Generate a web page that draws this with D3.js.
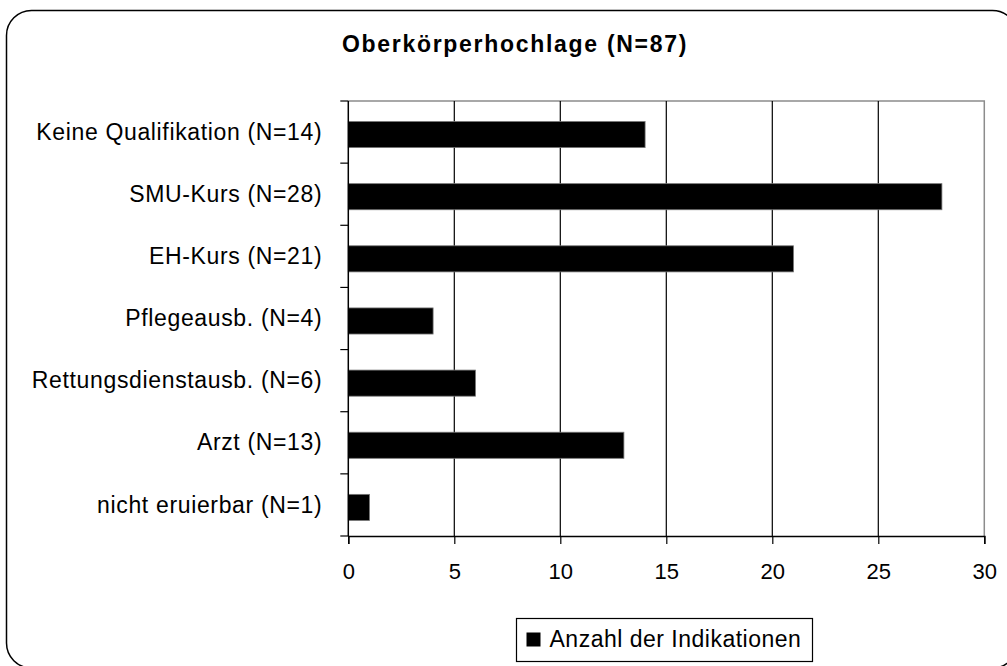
<!DOCTYPE html>
<html>
<head>
<meta charset="utf-8">
<script src="https://cdn.jsdelivr.net/npm/d3@7"></script>
<style>
  body { margin: 0; background: #fff; }
  svg { display: block; }
  text { font-family: "Liberation Sans", Arial, sans-serif; fill: #000; }
</style>
</head>
<body>
<div id="wrapper"></div>
<script>
const categories = [
  'Keine Qualifikation (N=14)',
  'SMU-Kurs (N=28)',
  'EH-Kurs (N=21)',
  'Pflegeausb. (N=4)',
  'Rettungsdienstausb. (N=6)',
  'Arzt (N=13)',
  'nicht eruierbar (N=1)'
];
const values = [14, 28, 21, 4, 6, 13, 1];
const xTicks = [0, 5, 10, 15, 20, 25, 30];
const title = 'Oberkörperhochlage (N=87)';
const seriesName = 'Anzahl der Indikationen';

const W = 1007, H = 666;
const plot = {left: 348.3, right: 984.3, top: 101, bottom: 536};

const svg = d3.select('#wrapper').append('svg')
  .attr('width', W)
  .attr('height', H);

// outer frame, runs off the right and bottom edge
svg.append('rect')
  .attr('x', 6.5).attr('y', 10.5)
  .attr('width', 1011).attr('height', 657.5)
  .attr('rx', 25).attr('ry', 25)
  .attr('fill', 'none')
  .attr('stroke', '#000')
  .attr('stroke-width', 1.5);

svg.append('text')
  .attr('x', 515).attr('y', 52)
  .attr('text-anchor', 'middle')
  .attr('font-size', '23px')
  .attr('font-weight', 'bold')
  .attr('letter-spacing', '1.7px')
  .text(title);

const x = d3.scaleLinear().domain([0, 30]).range([plot.left, plot.right]);
const y = d3.scaleBand().domain(categories).range([plot.top, plot.bottom]).padding(0);

const g = svg.append('g');

// plot area border (grey top / right)
g.append('path')
  .attr('d', `M${plot.left},${plot.top}H${plot.right}V${plot.bottom}`)
  .attr('fill', 'none')
  .attr('stroke', '#8c8c8c')
  .attr('stroke-width', 1.5);

// vertical grid lines
g.selectAll('line.grid')
  .data(xTicks.filter(t => t > 0 && t < 30))
  .join('line')
  .attr('class', 'grid')
  .attr('x1', d => x(d)).attr('x2', d => x(d))
  .attr('y1', plot.top).attr('y2', plot.bottom)
  .attr('stroke', '#000')
  .attr('stroke-width', 1.2);

// bars
const bh = y.step() * 0.42;
g.selectAll('rect.bar')
  .data(values)
  .join('rect')
  .attr('class', 'bar')
  .attr('x', x(0))
  .attr('y', (d, i) => y(categories[i]) + y.step() * 0.33)
  .attr('width', d => x(d) - x(0))
  .attr('height', bh)
  .attr('fill', '#000')
  .attr('stroke', '#777')
  .attr('stroke-width', 0.8);

// x axis
const xAxis = g.append('g')
  .attr('transform', `translate(0,${plot.bottom})`)
  .call(d3.axisBottom(x).tickValues(xTicks).tickSize(8).tickPadding(19));
xAxis.select('.domain').attr('stroke', '#000').attr('stroke-width', 1.5);
xAxis.selectAll('.tick line').attr('stroke', '#000').attr('stroke-width', 1.2);
xAxis.selectAll('.tick text')
  .attr('font-family', '"Liberation Sans", Arial, sans-serif')
  .attr('font-size', '22px')
  .attr('fill', '#000');

// y axis: ticks at band borders
const yAxis = g.append('g').attr('transform', `translate(${plot.left},0)`);
yAxis.append('line')
  .attr('x1', 0).attr('x2', 0)
  .attr('y1', plot.top).attr('y2', plot.bottom)
  .attr('stroke', '#000').attr('stroke-width', 1.5);
const borders = categories.map(c => y(c)).concat([plot.bottom]);
yAxis.selectAll('line.tick')
  .data(borders)
  .join('line')
  .attr('class', 'tick')
  .attr('x1', -8).attr('x2', 0)
  .attr('y1', d => d).attr('y2', d => d)
  .attr('stroke', '#000').attr('stroke-width', 1.2);
yAxis.selectAll('text')
  .data(categories)
  .join('text')
  .attr('x', -26)
  .attr('y', d => y(d) + y.step() / 2)
  .attr('dy', '0.33em')
  .attr('text-anchor', 'end')
  .attr('font-size', '23px')
  .attr('letter-spacing', '0.65px')
  .text(d => d);

// legend
const lg = svg.append('g').attr('transform', 'translate(516.5,618.5)');
lg.append('rect')
  .attr('width', 296).attr('height', 43)
  .attr('fill', '#fff').attr('stroke', '#000').attr('stroke-width', 1.2);
lg.append('rect')
  .attr('x', 10).attr('y', 14)
  .attr('width', 14).attr('height', 14)
  .attr('fill', '#000');
lg.append('text')
  .attr('x', 33).attr('y', 28)
  .attr('font-size', '23px')
  .attr('letter-spacing', '0.5px')
  .text(seriesName);
</script>
</body>
</html>
